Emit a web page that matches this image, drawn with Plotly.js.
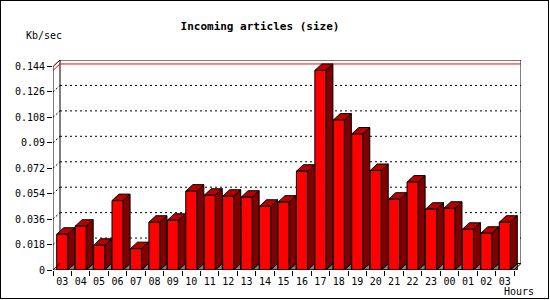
<!DOCTYPE html>
<html>
<head>
<meta charset="utf-8">
<script src="https://cdn.plot.ly/plotly-3.0.1.min.js"></script>
<style>
  html, body { margin: 0; padding: 0; background: #ffffff; }
  #chart { width: 549px; height: 299px; border: 1px solid #000; box-sizing: border-box; overflow: hidden; }
</style>
</head>
<body>
<div id="chart"></div>
<script>
// ---- data ----
const hours = ['03','04','05','06','07','08','09','10','11','12','13','14','15','16','17','18','19','20','21','22','23','00','01','02','03'];
const sizeKbps = [0.0253, 0.0310, 0.0175, 0.0491, 0.0151, 0.0338, 0.0352, 0.0558, 0.0529, 0.0522, 0.0515, 0.0451, 0.0480, 0.0699, 0.1412, 0.1061, 0.0962, 0.0704, 0.0501, 0.0622, 0.0430, 0.0437, 0.0288, 0.0260, 0.0338];
const yTickVals = [0, 0.018, 0.036, 0.054, 0.072, 0.09, 0.108, 0.126, 0.144];
const yTickText = ['0', '0.018', '0.036', '0.054', '0.072', '0.09', '0.108', '0.126', '0.144'];
const chartTitle = 'Incoming articles (size)';
const yUnit = 'Kb/sec';
const xUnit = 'Hours';

// ---- layout geometry ----
const FIG_W = 547, FIG_H = 297;
const M = {l: 52, r: 27, t: 59, b: 28};
const W = FIG_W - M.l - M.r;
const H = FIG_H - M.t - M.b;
const DEPTH_X = 7, DEPTH_Y = 6.5;        // 3D depth in pixels
const N = hours.length;
const YMAX = yTickVals[yTickVals.length - 1];
const dxu = DEPTH_X * N / (W - DEPTH_X);           // depth in x data units
const dyu = DEPTH_Y * YMAX / (H - DEPTH_Y);        // depth in y data units
const HALF = 0.3;                                   // half bar width (data units)
const xIdx = hours.map((_, i) => i);
const vmax = Math.max(...sizeKbps);

function poly(pts) {
  return 'M' + pts.map(p => p[0] + ',' + p[1]).join(' L') + ' Z';
}
function line(x0, y0, x1, y1, color, dash, layer) {
  return {type: 'line', xref: 'x', yref: 'y', x0, y0, x1, y1, layer: layer || 'below',
          line: {color: color, width: 1, dash: dash || 'solid'}};
}

const shapes = [];
// back wall
shapes.push({type: 'rect', xref: 'x', yref: 'y', x0: -0.5 + dxu, x1: N - 0.5 + dxu, y0: dyu, y1: YMAX + dyu,
             fillcolor: '#ffffff', line: {color: '#000', width: 1}, layer: 'below'});
// grid lines on back wall + slanted connectors on the left side
yTickVals.forEach(t => {
  if (t > 0 && t < YMAX) {
    shapes.push(line(-0.5 + dxu, t + dyu, N - 0.5 + dxu, t + dyu, '#000', '2px,3px'));
    shapes.push(line(-0.5, t, -0.5 + dxu, t + dyu, '#000', '2px,2px'));
  }
});
// max value line (red)
shapes.push(line(-0.5, vmax, -0.5 + dxu, vmax + dyu, '#ff0000'));
shapes.push(line(-0.5 + dxu, vmax + dyu, N - 0.5 + dxu, vmax + dyu, '#ff0000'));
// bars: shadow, side and top faces
sizeKbps.forEach((v, i) => {
  const xr = i + HALF, xl = i - HALF;
  shapes.push({type: 'path', xref: 'x', yref: 'y', layer: 'below',
               path: poly([[xr, 0], [xr + dxu, dyu], [xr + dxu, 0]]),
               fillcolor: '#808080', line: {color: '#000', width: 1}});
  shapes.push({type: 'path', xref: 'x', yref: 'y', layer: 'below',
               path: poly([[xr, 0], [xr, v], [xr + dxu, v + dyu], [xr + dxu, dyu]]),
               fillcolor: '#800000', line: {color: '#000', width: 1}});
  shapes.push({type: 'path', xref: 'x', yref: 'y', layer: 'below',
               path: poly([[xl, v], [xl + dxu, v + dyu], [xr + dxu, v + dyu], [xr, v]]),
               fillcolor: '#b80000', line: {color: '#000', width: 1}});
});
// front axis lines and floor edges
shapes.push(line(-0.5, 0, -0.5, YMAX, '#000', 'solid', 'above'));
shapes.push(line(-0.5, YMAX, -0.5 + dxu, YMAX + dyu, '#000', 'solid', 'above'));
shapes.push(line(-0.5, 0, N - 0.5, 0, '#000', 'solid', 'above'));
shapes.push(line(-0.5, 0, -0.5 + dxu, dyu, '#000', 'solid', 'above'));
shapes.push(line(N - 0.5, 0, N - 0.5 + dxu, dyu, '#000', 'solid', 'above'));

const barTrace = {
  type: 'bar',
  x: xIdx,
  y: sizeKbps,
  width: 2 * HALF,
  marker: {color: '#ff0000', line: {color: '#000000', width: 1}},
  hoverinfo: 'skip'
};
// invisible helper trace so the boundary-tick axis is drawn
const boundaryTrace = {
  type: 'scatter', mode: 'none', x: [-0.5, N - 0.5], y: [0, 0],
  xaxis: 'x2', yaxis: 'y', hoverinfo: 'skip', showlegend: false
};

const xRange = [-0.5, N - 0.5 + dxu];
const boundaryVals = hours.map((_, i) => i - 0.5).concat([N - 0.5]);

const tickFont = {family: 'DejaVu Sans Mono, monospace', size: 10, color: '#000'};

const layout = {
  width: FIG_W, height: FIG_H,
  margin: M,
  paper_bgcolor: '#ffffff',
  plot_bgcolor: '#ffffff',
  showlegend: false,
  bargap: 0,
  title: {text: '<b>' + chartTitle + '</b>', xref: 'container', yref: 'container',
          x: 259 / FIG_W, xanchor: 'center', y: 1 - 25.5 / FIG_H, yanchor: 'middle',
          font: {family: 'DejaVu Sans Mono, monospace', size: 11, color: '#000'}},
  xaxis: {
    range: xRange,
    tickmode: 'array', tickvals: xIdx, ticktext: hours,
    ticks: '', ticklabelstandoff: 4,
    showgrid: false, zeroline: false, showline: false,
    tickfont: tickFont, fixedrange: true
  },
  xaxis2: {
    overlaying: 'x', anchor: 'y', side: 'bottom',
    range: xRange,
    tickmode: 'array', tickvals: boundaryVals,
    ticks: 'outside', ticklen: 5, tickcolor: '#000', tickwidth: 1,
    showticklabels: false,
    showgrid: false, zeroline: false, showline: false, fixedrange: true
  },
  yaxis: {
    range: [0, YMAX + dyu],
    tickmode: 'array', tickvals: yTickVals, ticktext: yTickText,
    ticks: 'outside', ticklen: 5, tickcolor: '#000', tickwidth: 1,
    showgrid: false, zeroline: false, showline: false,
    tickfont: tickFont, fixedrange: true
  },
  shapes: shapes,
  annotations: [
    {text: yUnit, xref: 'paper', yref: 'paper', x: (43 - M.l) / W, y: (M.t + H - 35) / H,
     xanchor: 'center', yanchor: 'middle', showarrow: false, font: tickFont},
    {text: xUnit, xref: 'paper', yref: 'paper', x: (518 - M.l) / W, y: (M.t + H - 290.5) / H,
     xanchor: 'center', yanchor: 'middle', showarrow: false, font: tickFont}
  ]
};

Plotly.newPlot('chart', [boundaryTrace, barTrace], layout, {displayModeBar: false, staticPlot: true});
</script>
</body>
</html>
